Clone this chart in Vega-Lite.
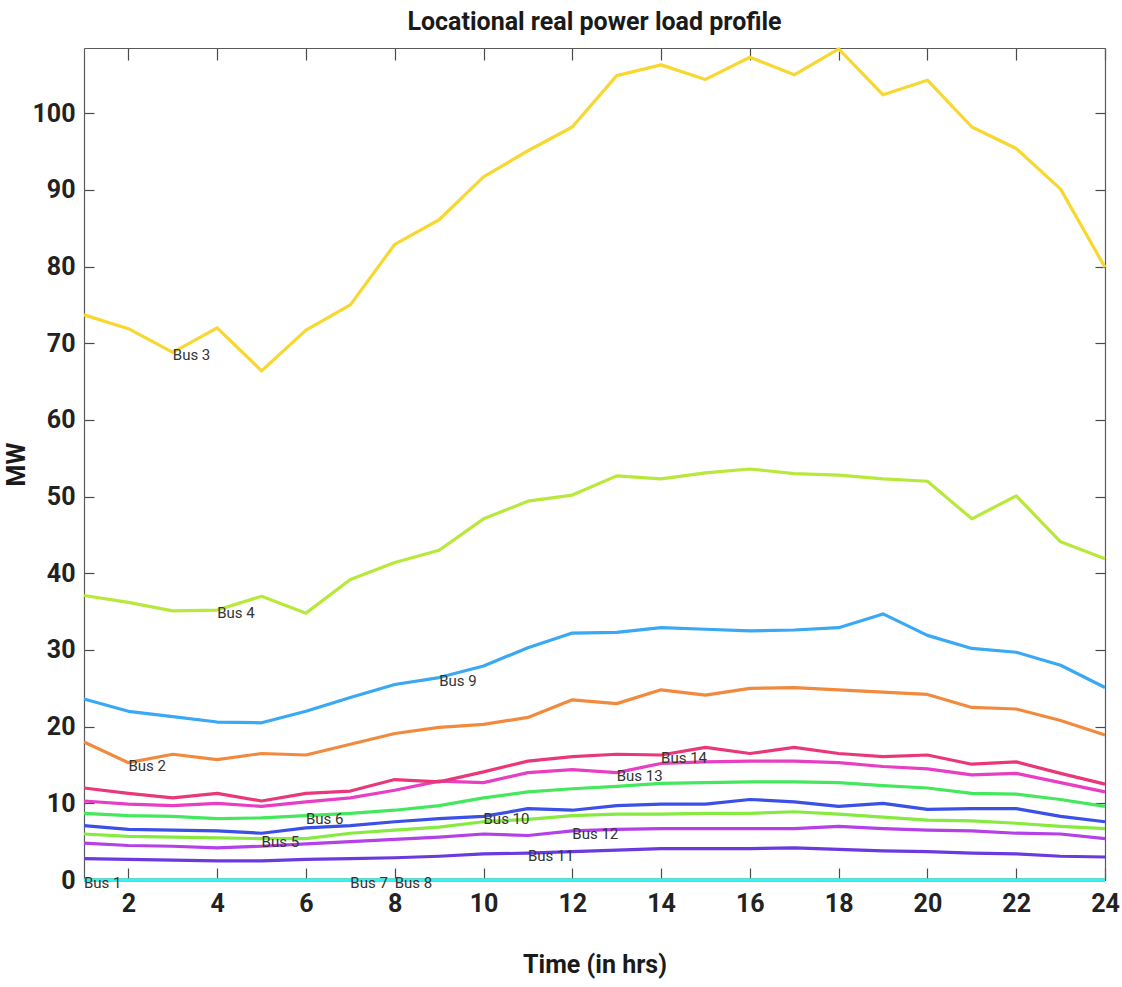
{
  "$schema": "https://vega.github.io/schema/vega-lite/v6.json",
  "width": 1021,
  "height": 832,
  "autosize": {"type": "none"},
  "padding": {"left": 84, "top": 48, "right": 17, "bottom": 107},
  "background": "white",
  "title": {
    "text": "Locational real power load profile",
    "font": "Roboto, sans-serif",
    "fontSize": 25,
    "fontWeight": "bold",
    "color": "#1a1a1a",
    "anchor": "middle",
    "offset": 12
  },
  "config": {
    "view": {"stroke": null},
    "axis": {
      "grid": false,
      "domainColor": "#5a5a5a",
      "domainWidth": 1.2,
      "tickColor": "#4a4a4a",
      "tickWidth": 1.2,
      "labelFont": "Roboto, sans-serif",
      "labelFontWeight": "bold",
      "labelFontSize": 25,
      "labelColor": "#222222",
      "titleFont": "Roboto, sans-serif",
      "titleFontWeight": "bold",
      "titleFontSize": 25,
      "titleColor": "#1a1a1a"
    }
  },
  "data": {
    "values": [
      {"bus": "Bus 1", "hour": 1, "mw": 0}, {"bus": "Bus 1", "hour": 2, "mw": 0}, {"bus": "Bus 1", "hour": 3, "mw": 0}, {"bus": "Bus 1", "hour": 4, "mw": 0},
      {"bus": "Bus 1", "hour": 5, "mw": 0}, {"bus": "Bus 1", "hour": 6, "mw": 0}, {"bus": "Bus 1", "hour": 7, "mw": 0}, {"bus": "Bus 1", "hour": 8, "mw": 0},
      {"bus": "Bus 1", "hour": 9, "mw": 0}, {"bus": "Bus 1", "hour": 10, "mw": 0}, {"bus": "Bus 1", "hour": 11, "mw": 0}, {"bus": "Bus 1", "hour": 12, "mw": 0},
      {"bus": "Bus 1", "hour": 13, "mw": 0}, {"bus": "Bus 1", "hour": 14, "mw": 0}, {"bus": "Bus 1", "hour": 15, "mw": 0}, {"bus": "Bus 1", "hour": 16, "mw": 0},
      {"bus": "Bus 1", "hour": 17, "mw": 0}, {"bus": "Bus 1", "hour": 18, "mw": 0}, {"bus": "Bus 1", "hour": 19, "mw": 0}, {"bus": "Bus 1", "hour": 20, "mw": 0},
      {"bus": "Bus 1", "hour": 21, "mw": 0}, {"bus": "Bus 1", "hour": 22, "mw": 0}, {"bus": "Bus 1", "hour": 23, "mw": 0}, {"bus": "Bus 1", "hour": 24, "mw": 0},

      {"bus": "Bus 2", "hour": 1, "mw": 18.0}, {"bus": "Bus 2", "hour": 2, "mw": 15.3}, {"bus": "Bus 2", "hour": 3, "mw": 16.4}, {"bus": "Bus 2", "hour": 4, "mw": 15.7},
      {"bus": "Bus 2", "hour": 5, "mw": 16.5}, {"bus": "Bus 2", "hour": 6, "mw": 16.3}, {"bus": "Bus 2", "hour": 7, "mw": 17.7}, {"bus": "Bus 2", "hour": 8, "mw": 19.1},
      {"bus": "Bus 2", "hour": 9, "mw": 19.9}, {"bus": "Bus 2", "hour": 10, "mw": 20.3}, {"bus": "Bus 2", "hour": 11, "mw": 21.2}, {"bus": "Bus 2", "hour": 12, "mw": 23.5},
      {"bus": "Bus 2", "hour": 13, "mw": 23.0}, {"bus": "Bus 2", "hour": 14, "mw": 24.8}, {"bus": "Bus 2", "hour": 15, "mw": 24.1}, {"bus": "Bus 2", "hour": 16, "mw": 25.0},
      {"bus": "Bus 2", "hour": 17, "mw": 25.1}, {"bus": "Bus 2", "hour": 18, "mw": 24.8}, {"bus": "Bus 2", "hour": 19, "mw": 24.5}, {"bus": "Bus 2", "hour": 20, "mw": 24.2},
      {"bus": "Bus 2", "hour": 21, "mw": 22.5}, {"bus": "Bus 2", "hour": 22, "mw": 22.3}, {"bus": "Bus 2", "hour": 23, "mw": 20.8}, {"bus": "Bus 2", "hour": 24, "mw": 18.9},

      {"bus": "Bus 3", "hour": 1, "mw": 73.7}, {"bus": "Bus 3", "hour": 2, "mw": 71.9}, {"bus": "Bus 3", "hour": 3, "mw": 68.8}, {"bus": "Bus 3", "hour": 4, "mw": 72.0},
      {"bus": "Bus 3", "hour": 5, "mw": 66.4}, {"bus": "Bus 3", "hour": 6, "mw": 71.7}, {"bus": "Bus 3", "hour": 7, "mw": 75.0}, {"bus": "Bus 3", "hour": 8, "mw": 82.9},
      {"bus": "Bus 3", "hour": 9, "mw": 86.1}, {"bus": "Bus 3", "hour": 10, "mw": 91.7}, {"bus": "Bus 3", "hour": 11, "mw": 95.1}, {"bus": "Bus 3", "hour": 12, "mw": 98.2},
      {"bus": "Bus 3", "hour": 13, "mw": 104.9}, {"bus": "Bus 3", "hour": 14, "mw": 106.3}, {"bus": "Bus 3", "hour": 15, "mw": 104.4}, {"bus": "Bus 3", "hour": 16, "mw": 107.3},
      {"bus": "Bus 3", "hour": 17, "mw": 105.0}, {"bus": "Bus 3", "hour": 18, "mw": 108.4}, {"bus": "Bus 3", "hour": 19, "mw": 102.4}, {"bus": "Bus 3", "hour": 20, "mw": 104.3},
      {"bus": "Bus 3", "hour": 21, "mw": 98.2}, {"bus": "Bus 3", "hour": 22, "mw": 95.4}, {"bus": "Bus 3", "hour": 23, "mw": 90.1}, {"bus": "Bus 3", "hour": 24, "mw": 79.9},

      {"bus": "Bus 4", "hour": 1, "mw": 37.1}, {"bus": "Bus 4", "hour": 2, "mw": 36.2}, {"bus": "Bus 4", "hour": 3, "mw": 35.1}, {"bus": "Bus 4", "hour": 4, "mw": 35.2},
      {"bus": "Bus 4", "hour": 5, "mw": 37.0}, {"bus": "Bus 4", "hour": 6, "mw": 34.8}, {"bus": "Bus 4", "hour": 7, "mw": 39.2}, {"bus": "Bus 4", "hour": 8, "mw": 41.4},
      {"bus": "Bus 4", "hour": 9, "mw": 43.0}, {"bus": "Bus 4", "hour": 10, "mw": 47.1}, {"bus": "Bus 4", "hour": 11, "mw": 49.4}, {"bus": "Bus 4", "hour": 12, "mw": 50.2},
      {"bus": "Bus 4", "hour": 13, "mw": 52.7}, {"bus": "Bus 4", "hour": 14, "mw": 52.3}, {"bus": "Bus 4", "hour": 15, "mw": 53.1}, {"bus": "Bus 4", "hour": 16, "mw": 53.6},
      {"bus": "Bus 4", "hour": 17, "mw": 53.0}, {"bus": "Bus 4", "hour": 18, "mw": 52.8}, {"bus": "Bus 4", "hour": 19, "mw": 52.3}, {"bus": "Bus 4", "hour": 20, "mw": 52.0},
      {"bus": "Bus 4", "hour": 21, "mw": 47.1}, {"bus": "Bus 4", "hour": 22, "mw": 50.1}, {"bus": "Bus 4", "hour": 23, "mw": 44.1}, {"bus": "Bus 4", "hour": 24, "mw": 41.9},

      {"bus": "Bus 5", "hour": 1, "mw": 6.0}, {"bus": "Bus 5", "hour": 2, "mw": 5.7}, {"bus": "Bus 5", "hour": 3, "mw": 5.6}, {"bus": "Bus 5", "hour": 4, "mw": 5.5},
      {"bus": "Bus 5", "hour": 5, "mw": 5.4}, {"bus": "Bus 5", "hour": 6, "mw": 5.4}, {"bus": "Bus 5", "hour": 7, "mw": 6.1}, {"bus": "Bus 5", "hour": 8, "mw": 6.5},
      {"bus": "Bus 5", "hour": 9, "mw": 6.9}, {"bus": "Bus 5", "hour": 10, "mw": 7.6}, {"bus": "Bus 5", "hour": 11, "mw": 7.9}, {"bus": "Bus 5", "hour": 12, "mw": 8.4},
      {"bus": "Bus 5", "hour": 13, "mw": 8.6}, {"bus": "Bus 5", "hour": 14, "mw": 8.6}, {"bus": "Bus 5", "hour": 15, "mw": 8.7}, {"bus": "Bus 5", "hour": 16, "mw": 8.7},
      {"bus": "Bus 5", "hour": 17, "mw": 8.9}, {"bus": "Bus 5", "hour": 18, "mw": 8.6}, {"bus": "Bus 5", "hour": 19, "mw": 8.2}, {"bus": "Bus 5", "hour": 20, "mw": 7.8},
      {"bus": "Bus 5", "hour": 21, "mw": 7.7}, {"bus": "Bus 5", "hour": 22, "mw": 7.4}, {"bus": "Bus 5", "hour": 23, "mw": 7.0}, {"bus": "Bus 5", "hour": 24, "mw": 6.7},

      {"bus": "Bus 6", "hour": 1, "mw": 8.7}, {"bus": "Bus 6", "hour": 2, "mw": 8.4}, {"bus": "Bus 6", "hour": 3, "mw": 8.3}, {"bus": "Bus 6", "hour": 4, "mw": 8.0},
      {"bus": "Bus 6", "hour": 5, "mw": 8.1}, {"bus": "Bus 6", "hour": 6, "mw": 8.4}, {"bus": "Bus 6", "hour": 7, "mw": 8.7}, {"bus": "Bus 6", "hour": 8, "mw": 9.1},
      {"bus": "Bus 6", "hour": 9, "mw": 9.7}, {"bus": "Bus 6", "hour": 10, "mw": 10.7}, {"bus": "Bus 6", "hour": 11, "mw": 11.5}, {"bus": "Bus 6", "hour": 12, "mw": 11.9},
      {"bus": "Bus 6", "hour": 13, "mw": 12.2}, {"bus": "Bus 6", "hour": 14, "mw": 12.6}, {"bus": "Bus 6", "hour": 15, "mw": 12.7}, {"bus": "Bus 6", "hour": 16, "mw": 12.8},
      {"bus": "Bus 6", "hour": 17, "mw": 12.8}, {"bus": "Bus 6", "hour": 18, "mw": 12.7}, {"bus": "Bus 6", "hour": 19, "mw": 12.3}, {"bus": "Bus 6", "hour": 20, "mw": 12.0},
      {"bus": "Bus 6", "hour": 21, "mw": 11.3}, {"bus": "Bus 6", "hour": 22, "mw": 11.2}, {"bus": "Bus 6", "hour": 23, "mw": 10.5}, {"bus": "Bus 6", "hour": 24, "mw": 9.6},

      {"bus": "Bus 7", "hour": 1, "mw": 0}, {"bus": "Bus 7", "hour": 2, "mw": 0}, {"bus": "Bus 7", "hour": 3, "mw": 0}, {"bus": "Bus 7", "hour": 4, "mw": 0},
      {"bus": "Bus 7", "hour": 5, "mw": 0}, {"bus": "Bus 7", "hour": 6, "mw": 0}, {"bus": "Bus 7", "hour": 7, "mw": 0}, {"bus": "Bus 7", "hour": 8, "mw": 0},
      {"bus": "Bus 7", "hour": 9, "mw": 0}, {"bus": "Bus 7", "hour": 10, "mw": 0}, {"bus": "Bus 7", "hour": 11, "mw": 0}, {"bus": "Bus 7", "hour": 12, "mw": 0},
      {"bus": "Bus 7", "hour": 13, "mw": 0}, {"bus": "Bus 7", "hour": 14, "mw": 0}, {"bus": "Bus 7", "hour": 15, "mw": 0}, {"bus": "Bus 7", "hour": 16, "mw": 0},
      {"bus": "Bus 7", "hour": 17, "mw": 0}, {"bus": "Bus 7", "hour": 18, "mw": 0}, {"bus": "Bus 7", "hour": 19, "mw": 0}, {"bus": "Bus 7", "hour": 20, "mw": 0},
      {"bus": "Bus 7", "hour": 21, "mw": 0}, {"bus": "Bus 7", "hour": 22, "mw": 0}, {"bus": "Bus 7", "hour": 23, "mw": 0}, {"bus": "Bus 7", "hour": 24, "mw": 0},

      {"bus": "Bus 8", "hour": 1, "mw": 0}, {"bus": "Bus 8", "hour": 2, "mw": 0}, {"bus": "Bus 8", "hour": 3, "mw": 0}, {"bus": "Bus 8", "hour": 4, "mw": 0},
      {"bus": "Bus 8", "hour": 5, "mw": 0}, {"bus": "Bus 8", "hour": 6, "mw": 0}, {"bus": "Bus 8", "hour": 7, "mw": 0}, {"bus": "Bus 8", "hour": 8, "mw": 0},
      {"bus": "Bus 8", "hour": 9, "mw": 0}, {"bus": "Bus 8", "hour": 10, "mw": 0}, {"bus": "Bus 8", "hour": 11, "mw": 0}, {"bus": "Bus 8", "hour": 12, "mw": 0},
      {"bus": "Bus 8", "hour": 13, "mw": 0}, {"bus": "Bus 8", "hour": 14, "mw": 0}, {"bus": "Bus 8", "hour": 15, "mw": 0}, {"bus": "Bus 8", "hour": 16, "mw": 0},
      {"bus": "Bus 8", "hour": 17, "mw": 0}, {"bus": "Bus 8", "hour": 18, "mw": 0}, {"bus": "Bus 8", "hour": 19, "mw": 0}, {"bus": "Bus 8", "hour": 20, "mw": 0},
      {"bus": "Bus 8", "hour": 21, "mw": 0}, {"bus": "Bus 8", "hour": 22, "mw": 0}, {"bus": "Bus 8", "hour": 23, "mw": 0}, {"bus": "Bus 8", "hour": 24, "mw": 0},

      {"bus": "Bus 9", "hour": 1, "mw": 23.6}, {"bus": "Bus 9", "hour": 2, "mw": 22.0}, {"bus": "Bus 9", "hour": 3, "mw": 21.3}, {"bus": "Bus 9", "hour": 4, "mw": 20.6},
      {"bus": "Bus 9", "hour": 5, "mw": 20.5}, {"bus": "Bus 9", "hour": 6, "mw": 22.0}, {"bus": "Bus 9", "hour": 7, "mw": 23.8}, {"bus": "Bus 9", "hour": 8, "mw": 25.5},
      {"bus": "Bus 9", "hour": 9, "mw": 26.4}, {"bus": "Bus 9", "hour": 10, "mw": 27.9}, {"bus": "Bus 9", "hour": 11, "mw": 30.3}, {"bus": "Bus 9", "hour": 12, "mw": 32.2},
      {"bus": "Bus 9", "hour": 13, "mw": 32.3}, {"bus": "Bus 9", "hour": 14, "mw": 32.9}, {"bus": "Bus 9", "hour": 15, "mw": 32.7}, {"bus": "Bus 9", "hour": 16, "mw": 32.5},
      {"bus": "Bus 9", "hour": 17, "mw": 32.6}, {"bus": "Bus 9", "hour": 18, "mw": 32.9}, {"bus": "Bus 9", "hour": 19, "mw": 34.7}, {"bus": "Bus 9", "hour": 20, "mw": 31.9},
      {"bus": "Bus 9", "hour": 21, "mw": 30.2}, {"bus": "Bus 9", "hour": 22, "mw": 29.7}, {"bus": "Bus 9", "hour": 23, "mw": 28.0}, {"bus": "Bus 9", "hour": 24, "mw": 25.1},

      {"bus": "Bus 10", "hour": 1, "mw": 7.1}, {"bus": "Bus 10", "hour": 2, "mw": 6.6}, {"bus": "Bus 10", "hour": 3, "mw": 6.5}, {"bus": "Bus 10", "hour": 4, "mw": 6.4},
      {"bus": "Bus 10", "hour": 5, "mw": 6.1}, {"bus": "Bus 10", "hour": 6, "mw": 6.8}, {"bus": "Bus 10", "hour": 7, "mw": 7.1}, {"bus": "Bus 10", "hour": 8, "mw": 7.6},
      {"bus": "Bus 10", "hour": 9, "mw": 8.0}, {"bus": "Bus 10", "hour": 10, "mw": 8.3}, {"bus": "Bus 10", "hour": 11, "mw": 9.3}, {"bus": "Bus 10", "hour": 12, "mw": 9.1},
      {"bus": "Bus 10", "hour": 13, "mw": 9.7}, {"bus": "Bus 10", "hour": 14, "mw": 9.9}, {"bus": "Bus 10", "hour": 15, "mw": 9.9}, {"bus": "Bus 10", "hour": 16, "mw": 10.5},
      {"bus": "Bus 10", "hour": 17, "mw": 10.2}, {"bus": "Bus 10", "hour": 18, "mw": 9.6}, {"bus": "Bus 10", "hour": 19, "mw": 10.0}, {"bus": "Bus 10", "hour": 20, "mw": 9.2},
      {"bus": "Bus 10", "hour": 21, "mw": 9.3}, {"bus": "Bus 10", "hour": 22, "mw": 9.3}, {"bus": "Bus 10", "hour": 23, "mw": 8.3}, {"bus": "Bus 10", "hour": 24, "mw": 7.6},

      {"bus": "Bus 11", "hour": 1, "mw": 2.8}, {"bus": "Bus 11", "hour": 2, "mw": 2.7}, {"bus": "Bus 11", "hour": 3, "mw": 2.6}, {"bus": "Bus 11", "hour": 4, "mw": 2.5},
      {"bus": "Bus 11", "hour": 5, "mw": 2.5}, {"bus": "Bus 11", "hour": 6, "mw": 2.7}, {"bus": "Bus 11", "hour": 7, "mw": 2.8}, {"bus": "Bus 11", "hour": 8, "mw": 2.9},
      {"bus": "Bus 11", "hour": 9, "mw": 3.1}, {"bus": "Bus 11", "hour": 10, "mw": 3.4}, {"bus": "Bus 11", "hour": 11, "mw": 3.5}, {"bus": "Bus 11", "hour": 12, "mw": 3.7},
      {"bus": "Bus 11", "hour": 13, "mw": 3.9}, {"bus": "Bus 11", "hour": 14, "mw": 4.1}, {"bus": "Bus 11", "hour": 15, "mw": 4.1}, {"bus": "Bus 11", "hour": 16, "mw": 4.1},
      {"bus": "Bus 11", "hour": 17, "mw": 4.2}, {"bus": "Bus 11", "hour": 18, "mw": 4.0}, {"bus": "Bus 11", "hour": 19, "mw": 3.8}, {"bus": "Bus 11", "hour": 20, "mw": 3.7},
      {"bus": "Bus 11", "hour": 21, "mw": 3.5}, {"bus": "Bus 11", "hour": 22, "mw": 3.4}, {"bus": "Bus 11", "hour": 23, "mw": 3.1}, {"bus": "Bus 11", "hour": 24, "mw": 3.0},

      {"bus": "Bus 12", "hour": 1, "mw": 4.8}, {"bus": "Bus 12", "hour": 2, "mw": 4.5}, {"bus": "Bus 12", "hour": 3, "mw": 4.4}, {"bus": "Bus 12", "hour": 4, "mw": 4.2},
      {"bus": "Bus 12", "hour": 5, "mw": 4.4}, {"bus": "Bus 12", "hour": 6, "mw": 4.7}, {"bus": "Bus 12", "hour": 7, "mw": 5.0}, {"bus": "Bus 12", "hour": 8, "mw": 5.3},
      {"bus": "Bus 12", "hour": 9, "mw": 5.6}, {"bus": "Bus 12", "hour": 10, "mw": 6.0}, {"bus": "Bus 12", "hour": 11, "mw": 5.8}, {"bus": "Bus 12", "hour": 12, "mw": 6.4},
      {"bus": "Bus 12", "hour": 13, "mw": 6.6}, {"bus": "Bus 12", "hour": 14, "mw": 6.7}, {"bus": "Bus 12", "hour": 15, "mw": 6.7}, {"bus": "Bus 12", "hour": 16, "mw": 6.7},
      {"bus": "Bus 12", "hour": 17, "mw": 6.7}, {"bus": "Bus 12", "hour": 18, "mw": 7.0}, {"bus": "Bus 12", "hour": 19, "mw": 6.7}, {"bus": "Bus 12", "hour": 20, "mw": 6.5},
      {"bus": "Bus 12", "hour": 21, "mw": 6.4}, {"bus": "Bus 12", "hour": 22, "mw": 6.1}, {"bus": "Bus 12", "hour": 23, "mw": 6.0}, {"bus": "Bus 12", "hour": 24, "mw": 5.4},

      {"bus": "Bus 13", "hour": 1, "mw": 10.3}, {"bus": "Bus 13", "hour": 2, "mw": 9.9}, {"bus": "Bus 13", "hour": 3, "mw": 9.7}, {"bus": "Bus 13", "hour": 4, "mw": 10.0},
      {"bus": "Bus 13", "hour": 5, "mw": 9.6}, {"bus": "Bus 13", "hour": 6, "mw": 10.2}, {"bus": "Bus 13", "hour": 7, "mw": 10.7}, {"bus": "Bus 13", "hour": 8, "mw": 11.7},
      {"bus": "Bus 13", "hour": 9, "mw": 12.9}, {"bus": "Bus 13", "hour": 10, "mw": 12.7}, {"bus": "Bus 13", "hour": 11, "mw": 14.0}, {"bus": "Bus 13", "hour": 12, "mw": 14.4},
      {"bus": "Bus 13", "hour": 13, "mw": 14.0}, {"bus": "Bus 13", "hour": 14, "mw": 15.2}, {"bus": "Bus 13", "hour": 15, "mw": 15.4}, {"bus": "Bus 13", "hour": 16, "mw": 15.5},
      {"bus": "Bus 13", "hour": 17, "mw": 15.5}, {"bus": "Bus 13", "hour": 18, "mw": 15.3}, {"bus": "Bus 13", "hour": 19, "mw": 14.8}, {"bus": "Bus 13", "hour": 20, "mw": 14.5},
      {"bus": "Bus 13", "hour": 21, "mw": 13.7}, {"bus": "Bus 13", "hour": 22, "mw": 13.9}, {"bus": "Bus 13", "hour": 23, "mw": 12.7}, {"bus": "Bus 13", "hour": 24, "mw": 11.5},

      {"bus": "Bus 14", "hour": 1, "mw": 12.0}, {"bus": "Bus 14", "hour": 2, "mw": 11.3}, {"bus": "Bus 14", "hour": 3, "mw": 10.7}, {"bus": "Bus 14", "hour": 4, "mw": 11.3},
      {"bus": "Bus 14", "hour": 5, "mw": 10.3}, {"bus": "Bus 14", "hour": 6, "mw": 11.3}, {"bus": "Bus 14", "hour": 7, "mw": 11.6}, {"bus": "Bus 14", "hour": 8, "mw": 13.1},
      {"bus": "Bus 14", "hour": 9, "mw": 12.8}, {"bus": "Bus 14", "hour": 10, "mw": 14.1}, {"bus": "Bus 14", "hour": 11, "mw": 15.5}, {"bus": "Bus 14", "hour": 12, "mw": 16.1},
      {"bus": "Bus 14", "hour": 13, "mw": 16.4}, {"bus": "Bus 14", "hour": 14, "mw": 16.3}, {"bus": "Bus 14", "hour": 15, "mw": 17.3}, {"bus": "Bus 14", "hour": 16, "mw": 16.5},
      {"bus": "Bus 14", "hour": 17, "mw": 17.3}, {"bus": "Bus 14", "hour": 18, "mw": 16.5}, {"bus": "Bus 14", "hour": 19, "mw": 16.1}, {"bus": "Bus 14", "hour": 20, "mw": 16.3},
      {"bus": "Bus 14", "hour": 21, "mw": 15.1}, {"bus": "Bus 14", "hour": 22, "mw": 15.4}, {"bus": "Bus 14", "hour": 23, "mw": 13.9}, {"bus": "Bus 14", "hour": 24, "mw": 12.5}
    ]
  },
  "layer": [
    {
      "mark": {"type": "line", "strokeWidth": 3.2, "strokeJoin": "round"},
      "encoding": {
        "x": {
          "field": "hour", "type": "quantitative",
          "scale": {"domain": [1, 24], "nice": false, "zero": false},
          "axis": {
            "orient": "bottom", "values": [2, 4, 6, 8, 10, 12, 14, 16, 18, 20, 22, 24],
            "tickSize": -12, "labelPadding": 23, "labelBaseline": "top",
            "title": "Time (in hrs)", "titlePadding": 36, "labelFlush": false
          }
        },
        "y": {
          "field": "mw", "type": "quantitative",
          "scale": {"domain": [0, 108.5], "nice": false},
          "axis": {
            "orient": "left", "values": [0, 10, 20, 30, 40, 50, 60, 70, 80, 90, 100],
            "tickSize": -10, "labelPadding": 19, "labelFlush": false,
            "title": "MW", "titlePadding": 2
          }
        },
        "color": {
          "field": "bus", "type": "nominal", "legend": null,
          "scale": {
            "domain": ["Bus 1", "Bus 2", "Bus 3", "Bus 4", "Bus 5", "Bus 6", "Bus 7", "Bus 8", "Bus 9", "Bus 10", "Bus 11", "Bus 12", "Bus 13", "Bus 14"],
            "range": ["#e8323c", "#f28a3e", "#f7d730", "#b8e83a", "#86ea40", "#44e85c", "#3ee8a8", "#30f4f4", "#3aa8f2", "#3a50e6", "#6a3ae0", "#b440e6", "#e83ec4", "#e8387a"]
          }
        }
      }
    },
    {
      "transform": [{"filter": "toNumber(slice(datum.bus, 4)) == datum.hour"}],
      "mark": {
        "type": "text", "align": "left", "baseline": "middle", "dy": 3,
        "font": "Roboto, sans-serif",
        "fontSize": 15, "color": "#333333"
      },
      "encoding": {
        "x": {
          "field": "hour", "type": "quantitative",
          "scale": {"domain": [1, 24], "nice": false, "zero": false},
          "axis": {
            "orient": "top", "values": [2, 4, 6, 8, 10, 12, 14, 16, 18, 20, 22, 24],
            "tickSize": -12, "labels": false, "title": null
          }
        },
        "y": {
          "field": "mw", "type": "quantitative",
          "scale": {"domain": [0, 108.5], "nice": false},
          "axis": {
            "orient": "right", "values": [0, 10, 20, 30, 40, 50, 60, 70, 80, 90, 100],
            "tickSize": -10, "labels": false, "title": null
          }
        },
        "text": {"field": "bus", "type": "nominal"}
      }
    }
  ],
  "resolve": {
    "scale": {"x": "independent", "y": "independent"},
    "axis": {"x": "independent", "y": "independent"}
  }
}
